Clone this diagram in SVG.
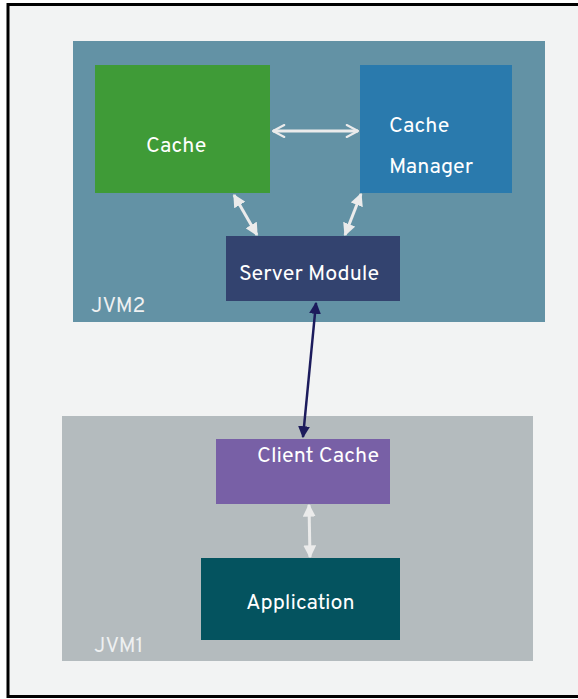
<svg xmlns="http://www.w3.org/2000/svg" width="578" height="699" viewBox="0 0 578 699">
<defs>
<style>
text{font-family:"Overpass","Liberation Sans","DejaVu Sans",sans-serif;fill:#ffffff;font-size:21.5px}
.lbl{fill:#eef0f1;font-size:21px}
.wl{stroke:#ebebeb;stroke-width:3;fill:none}
</style>
<marker id="tri" viewBox="0 0 10 10" refX="9" refY="5" markerWidth="4.3" markerHeight="4.3" orient="auto-start-reverse" markerUnits="strokeWidth">
<path d="M0,0 L10,5 L0,10 Z" fill="#ebebeb"/>
</marker>
<marker id="chev" viewBox="0 0 10 10" refX="9" refY="5" markerWidth="5" markerHeight="5" orient="auto-start-reverse" markerUnits="strokeWidth">
<path d="M1.5,1 L9,5 L1.5,9" fill="none" stroke="#ebebeb" stroke-width="1.4" stroke-linecap="round" stroke-linejoin="round"/>
</marker>
<marker id="dtri" viewBox="0 0 10 10" refX="9" refY="5" markerWidth="4.8" markerHeight="4.8" orient="auto-start-reverse" markerUnits="strokeWidth">
<path d="M0,0 L10,5 L0,10 Z" fill="#1c1b5c"/>
</marker>
</defs>
<rect x="0" y="0" width="578" height="699" fill="#ffffff"/>
<rect x="8" y="4.5" width="580" height="692" fill="#f2f3f3" stroke="#000" stroke-width="3"/>
<g id="jvm2">
<rect x="73" y="41" width="472" height="281" fill="#6392a5"/>
<text class="lbl" x="91" y="312">JVM2</text>
</g>
<g id="jvm1">
<rect x="62" y="416" width="471" height="245" fill="#b4bbbe"/>
<text class="lbl" x="94" y="652">JVM1</text>
</g>
<g id="cache">
<rect x="95" y="65" width="175" height="128" fill="#3f9b37"/>
<text x="146" y="152">Cache</text>
</g>
<g id="cache-manager">
<rect x="360" y="65" width="152" height="128" fill="#2a7aad"/>
<text x="389" y="132">Cache</text>
<text x="389" y="173">Manager</text>
</g>
<g id="server-module">
<rect x="226" y="236" width="174" height="65" fill="#33436f"/>
<text x="239" y="280">Server Module</text>
</g>
<g id="client-cache">
<rect x="216" y="439" width="174" height="65" fill="#7860a6"/>
<text x="257" y="462">Client Cache</text>
</g>
<g id="application">
<rect x="201" y="558" width="199" height="82" fill="#04535f"/>
<text x="246" y="609">Application</text>
</g>
<g id="connectors">
<line class="wl" x1="273" y1="131" x2="358" y2="131" marker-start="url(#chev)" marker-end="url(#chev)"/>
<line class="wl" x1="234" y1="195" x2="257" y2="235" marker-start="url(#tri)" marker-end="url(#tri)"/>
<line class="wl" x1="361" y1="194" x2="345" y2="235" marker-start="url(#tri)" marker-end="url(#tri)"/>
<line class="wl" x1="309" y1="505" x2="310" y2="557" marker-start="url(#tri)" marker-end="url(#tri)"/>
<line x1="316" y1="303" x2="303" y2="437" stroke="#1c1b5c" stroke-width="2.5" marker-start="url(#dtri)" marker-end="url(#dtri)"/>
</g>
</svg>
